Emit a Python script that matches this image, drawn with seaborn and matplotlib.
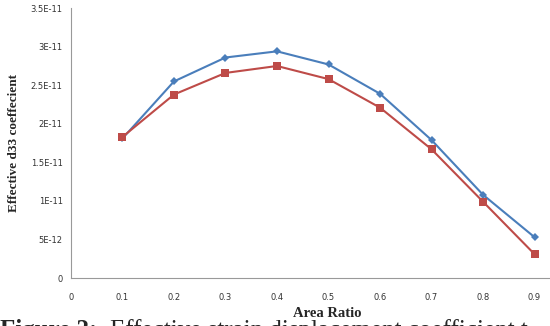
import numpy as np
import pandas as pd
import matplotlib
matplotlib.use('Agg')
import matplotlib.pyplot as plt
import seaborn as sns

# values
area_ratio = [0.1, 0.2, 0.3, 0.4, 0.5, 0.6, 0.7, 0.8, 0.9]
d33_blue = [1.81e-11, 2.55e-11, 2.86e-11, 2.94e-11, 2.77e-11, 2.39e-11, 1.79e-11, 1.08e-11, 5.3e-12]
d33_red = [1.83e-11, 2.38e-11, 2.66e-11, 2.75e-11, 2.58e-11, 2.21e-11, 1.67e-11, 9.9e-12, 3.1e-12]
x_ticks = [0, 0.1, 0.2, 0.3, 0.4, 0.5, 0.6, 0.7, 0.8, 0.9]
y_ticks = [0, 5e-12, 1e-11, 1.5e-11, 2e-11, 2.5e-11, 3e-11, 3.5e-11]
y_labels = ['0', '5E-12', '1E-11', '1.5E-11', '2E-11', '2.5E-11', '3E-11', '3.5E-11']

df = pd.DataFrame({'area': area_ratio * 2,
                   'd33': d33_blue + d33_red,
                   'series': ['blue'] * 9 + ['red'] * 9})

sns.set_style('white')
fig = plt.figure(figsize=(5.5, 3.26), dpi=100)
ax = fig.add_axes([0.129, 0.147, 0.871, 0.828])

sns.lineplot(data=df, x='area', y='d33', hue='series', style='series',
             palette={'blue': '#4A7EBB', 'red': '#BE4B48'},
             markers={'blue': 'D', 'red': 's'}, dashes=False,
             markersize=5, linewidth=1.5, markeredgewidth=0,
             legend=False, ax=ax)
# square a bit bigger than the diamond
ax.lines[0].set_markersize(4.2)
ax.lines[1].set_markersize(5.5)

ax.set_xlim(0, 0.93)
ax.set_ylim(0, 3.5e-11)
ax.set_xticks(x_ticks)
ax.set_xticklabels([f'{v:g}' for v in x_ticks])
ax.set_yticks(y_ticks)
ax.set_yticklabels(y_labels)
ax.tick_params(axis='both', labelsize=6, colors='#333333', length=3,
               direction='out', color='#999999')
ax.tick_params(axis='y', pad=3)
ax.tick_params(axis='x', pad=8)
for s in ['top', 'right']:
    ax.spines[s].set_visible(False)
for s in ['left', 'bottom']:
    ax.spines[s].set_color('#999999')
    ax.spines[s].set_linewidth(0.8)

ax.set_xlabel('Area Ratio', fontfamily='Liberation Serif', fontweight='bold',
              fontsize=10.5)
ax.set_ylabel('Effective d33 coeffecient', fontfamily='Liberation Serif',
              fontweight='bold', fontsize=9.5)
ax.xaxis.set_label_coords(0.534, -0.108)
ax.yaxis.set_label_coords(-0.107, 0.5)

# figure caption, cut off by the bottom edge as in the source screenshot
fig.text(0.0, -0.033, 'Figure 2:', fontfamily='Liberation Serif', fontweight='bold',
         fontsize=18, ha='left', va='baseline')
fig.text(0.2, -0.033, 'Effective strain displacement coefficient t',
         fontfamily='Liberation Serif', fontsize=18, ha='left', va='baseline')

fig.savefig('out.png', dpi=100)
